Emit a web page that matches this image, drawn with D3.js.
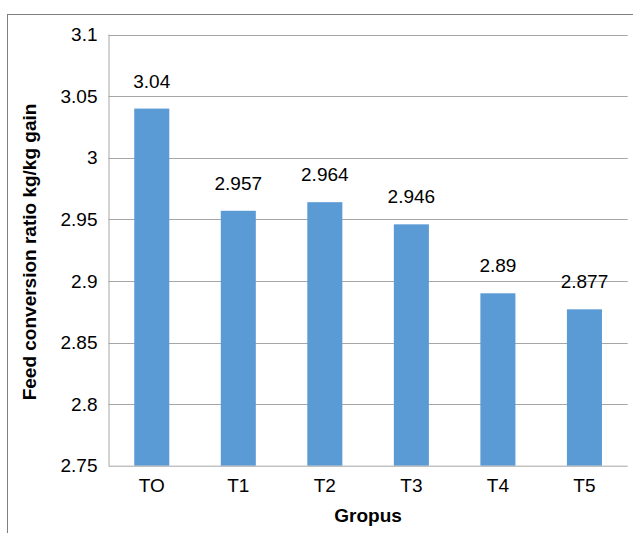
<!DOCTYPE html>
<html>
<head>
<meta charset="utf-8">
<script src="https://cdn.jsdelivr.net/npm/d3@7"></script>
<style>
  html, body { margin: 0; padding: 0; background: #fff; }
  svg { display: block; font-family: "Liberation Sans", Arial, sans-serif; }
</style>
</head>
<body>
<svg id="chart" width="633" height="533"></svg>
<script>
// Feed conversion ratio per treatment group
const groups = ["TO", "T1", "T2", "T3", "T4", "T5"];
const fcr = [3.04, 2.957, 2.964, 2.946, 2.89, 2.877];
const yTicks = [2.75, 2.8, 2.85, 2.9, 2.95, 3, 3.05, 3.1];

const svg = d3.select("#chart");
const W = 633, H = 533;
const m = { left: 108.5, right: 5.3, top: 34.7, bottom: 67.3 };
const FS = 19;

// Chart frame
svg.append("rect")
  .attr("x", 7.5).attr("y", 14.5)
  .attr("width", W + 10).attr("height", H + 10)
  .attr("fill", "none").attr("stroke", "#7f7f7f").attr("stroke-width", 1);

const x = d3.scaleBand().domain(groups)
  .range([m.left, W - m.right]).paddingInner(0.595).paddingOuter(0.2975);
const y = d3.scaleLinear().domain([2.75, 3.1]).range([H - m.bottom, m.top]);

// Horizontal gridlines
svg.append("g")
  .selectAll("line").data(yTicks.slice(1)).join("line")
  .attr("x1", m.left).attr("x2", W - m.right)
  .attr("y1", d => Math.round(y(d)) + 0.5).attr("y2", d => Math.round(y(d)) + 0.5)
  .attr("stroke", "#a6a6a6").attr("stroke-width", 1);

// Bars
svg.append("g")
  .selectAll("rect").data(fcr).join("rect")
  .attr("x", (d, i) => x(groups[i]))
  .attr("y", d => y(d))
  .attr("width", x.bandwidth())
  .attr("height", d => y(2.75) - y(d))
  .attr("fill", "#5b9bd5");

// Value labels
svg.append("g")
  .selectAll("text").data(fcr).join("text")
  .attr("x", (d, i) => x(groups[i]) + x.bandwidth() / 2)
  .attr("y", d => y(d) - 21)
  .attr("text-anchor", "middle")
  .attr("font-size", FS).attr("fill", "#000")
  .text(d => String(d));

// Y axis
const yAxis = d3.axisLeft(y).tickValues(yTicks).tickSize(0).tickPadding(11)
  .tickFormat(d => String(+d.toFixed(2)));
const gy = svg.append("g").attr("transform", `translate(${m.left},0)`).call(yAxis);
gy.select(".domain").attr("stroke", "#a6a6a6").attr("d", `M0.5,${m.top}V${H - m.bottom}`);
gy.selectAll("text").attr("font-size", FS).attr("fill", "#000")
  .attr("font-family", "Liberation Sans, Arial, sans-serif");

// X axis
const xAxis = d3.axisBottom(x).tickSize(0).tickPadding(13);
const gx = svg.append("g").attr("transform", `translate(0,${H - m.bottom})`).call(xAxis);
gx.select(".domain").attr("stroke", "#a6a6a6").attr("d", `M${m.left},0.5H${W - m.right}`);
gx.selectAll("text").attr("font-size", FS).attr("fill", "#000")
  .attr("font-family", "Liberation Sans, Arial, sans-serif");

// Axis titles
svg.append("text")
  .attr("x", (m.left + W - m.right) / 2).attr("y", 522)
  .attr("text-anchor", "middle").attr("font-size", FS).attr("font-weight", "bold")
  .text("Gropus");
svg.append("text")
  .attr("transform", "translate(36,252) rotate(-90)")
  .attr("text-anchor", "middle").attr("font-size", FS).attr("font-weight", "bold")
  .text("Feed conversion ratio kg/kg gain");
</script>
</body>
</html>
